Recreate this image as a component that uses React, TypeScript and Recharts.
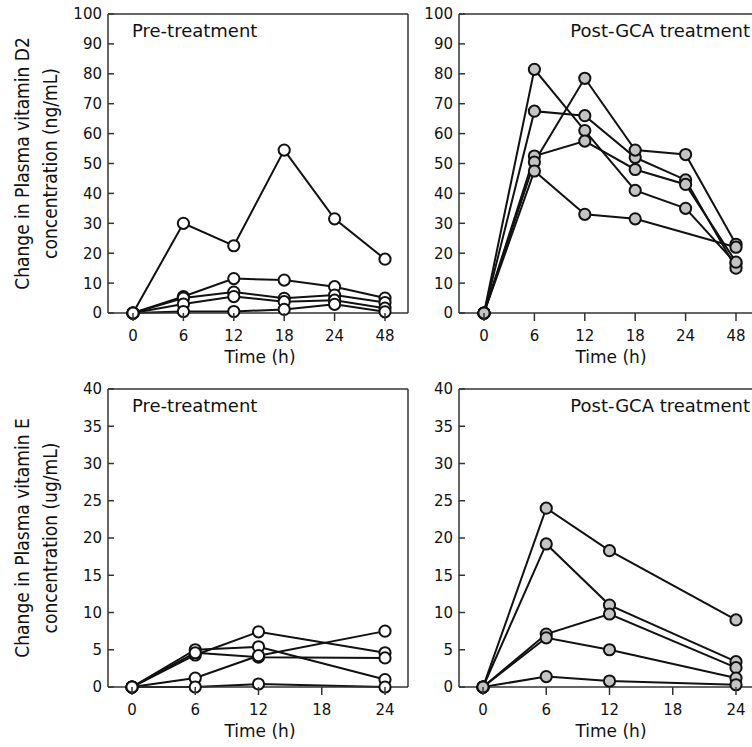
import { LineChart, Line, XAxis, YAxis } from "recharts";

// sampling times
const timesD2 = ["0", "6", "12", "18", "24", "48"];
const timesE = [0, 6, 12, 24];
const ticksD2Y = [0, 10, 20, 30, 40, 50, 60, 70, 80, 90, 100];
const ticksEY = [0, 5, 10, 15, 20, 25, 30, 35, 40];
const ticksEX = [0, 6, 12, 18, 24];

// vitamin D2, pre-treatment (ng/mL)
const preD2A = [0, 30, 22.5, 54.5, 31.5, 18];
const preD2B = [0, 5.5, 11.5, 11, 8.8, 5];
const preD2C = [0, 5, 7, 4.9, 6, 3.5];
const preD2D = [0, 3, 5.5, 3.8, 4.3, 1.6];
const preD2E = [0, 0.5, 0.5, 1.2, 2.9, 0.4];

// vitamin D2, post-GCA (ng/mL)
const postD2A = [0, 81.5, 61, 41, 35, 16.5];
const postD2B = [0, 67.5, 66, 52, 44.5, 15];
const postD2C = [0, 52.5, 57.5, 48, 43, 17];
const postD2D = [0, 50.5, 78.5, 54.5, 53, 23];
const postD2E = [0, 47.5, 33, 31.5, null, 22];

// vitamin E, pre-treatment (ug/mL)
const preEA = [0, 4.3, 7.4, 4.6];
const preEB = [0, 5, 5.4, 1];
const preEC = [0, 4.6, 4, 3.9];
const preED = [0, 1.2, 4.2, 7.5];
const preEE = [0, 0, 0.4, 0];

// vitamin E, post-GCA (ug/mL)
const postEA = [0, 24, 18.3, 9];
const postEB = [0, 19.2, 11, 3.4];
const postEC = [0, 7.1, 9.8, 2.6];
const postED = [0, 6.6, 5, 1.2];
const postEE = [0, 1.4, 0.8, 0.3];

const keys = ["a", "b", "c", "d", "e"];

function rows(times: (string | number)[], series: (number | null)[][]) {
  return times.map((t, i) => {
    const r: Record<string, string | number | null> = { t };
    series.forEach((s, k) => (r[keys[k]] = s[i]));
    return r;
  });
}

const dataPreD2 = rows(timesD2, [preD2A, preD2B, preD2C, preD2D, preD2E]);
const dataPostD2 = rows(timesD2, [postD2A, postD2B, postD2C, postD2D, postD2E]);
const dataPreE = rows(timesE, [preEA, preEB, preEC, preED, preEE]);
const dataPostE = rows(timesE, [postEA, postEB, postEC, postED, postEE]);

const FONT = "'DejaVu Sans', Verdana, sans-serif";
const FRAME = "#333";
const INK = "#111";

const YTick = (props: any) => {
  const { x, y, payload } = props;
  return (
    <g>
      <line x1={x} x2={x + 6} y1={y} y2={y} stroke={FRAME} strokeWidth={1.5} />
      <text x={x - 6} y={y} dy="0.36em" textAnchor="end" fontSize={15} fontFamily={FONT} fill={INK}>
        {payload.value}
      </text>
    </g>
  );
};

const XTick = (props: any) => {
  const { x, y, payload } = props;
  return (
    <g>
      <line x1={x} x2={x} y1={y} y2={y + 8} stroke={FRAME} strokeWidth={1.5} />
      <text x={x} y={y + 28} textAnchor="middle" fontSize={15} fontFamily={FONT} fill={INK}>
        {payload.value}
      </text>
    </g>
  );
};

type PanelProps = {
  left: number;
  top: number;
  width: number;
  height: number;
  marginRight: number;
  yWidth: number;
  xHeight: number;
  data: any[];
  numericX: boolean;
  yMax: number;
  yTicks: number[];
  fill: string;
  title: string;
  titleRight: boolean;
  yTitle?: string[];
};

function Panel(p: PanelProps) {
  const yTitle = p.yTitle;
  const xTitle = {
    content: ({ viewBox }: any) => (
      <text
        x={viewBox.x + viewBox.width / 2 + 2}
        y={viewBox.y + 50}
        textAnchor="middle"
        fontSize={17}
        fontFamily={FONT}
        fill={INK}
      >
        Time (h)
      </text>
    ),
  };
  return (
    <div style={{ position: "absolute", left: p.left, top: p.top }}>
      <LineChart
        width={p.width}
        height={p.height}
        data={p.data}
        margin={{ top: 13, right: p.marginRight - 1, left: 0, bottom: 0 }}
      >
        {p.numericX ? (
          <XAxis
            dataKey="t"
            type="number"
            domain={[0, 24]}
            ticks={ticksEX}
            padding={{ left: 24, right: 23 }}
            height={p.xHeight}
            tickSize={0}
            tickMargin={0}
            tickLine={false}
            tick={XTick}
            axisLine={{ stroke: FRAME, strokeWidth: 1.5 }}
            label={xTitle}
          />
        ) : (
          <XAxis
            dataKey="t"
            type="category"
            padding={{ left: 25, right: 23 }}
            height={p.xHeight}
            tickSize={0}
            tickMargin={0}
            tickLine={false}
            tick={XTick}
            axisLine={{ stroke: FRAME, strokeWidth: 1.5 }}
            label={xTitle}
          />
        )}
        {/* top and right edges of the frame */}
        <XAxis
          xAxisId="top"
          orientation="top"
          dataKey="t"
          type={p.numericX ? "number" : "category"}
          domain={p.numericX ? [0, 24] : undefined}
          height={1}
          tick={false}
          tickLine={false}
          axisLine={{ stroke: FRAME, strokeWidth: 1.5 }}
          label={{
            content: ({ viewBox }: any) => (
              <text
                x={p.titleRight ? viewBox.x + viewBox.width - 9 : viewBox.x + 24}
                y={viewBox.y + viewBox.height + 23}
                textAnchor={p.titleRight ? "end" : "start"}
                fontSize={18}
                fontFamily={FONT}
                fill={INK}
              >
                {p.title}
              </text>
            ),
          }}
        />
        <YAxis
          type="number"
          domain={[0, p.yMax]}
          ticks={p.yTicks}
          width={p.yWidth}
          tickSize={0}
          tickMargin={0}
          tickLine={false}
          tick={YTick}
          axisLine={{ stroke: FRAME, strokeWidth: 1.5 }}
          label={
            yTitle
              ? {
                  content: ({ viewBox }: any) => {
                    const cy = viewBox.y + viewBox.height / 2;
                    return (
                      <g>
                        {yTitle.map((line, i) => {
                          const cx = viewBox.x + 22 + i * 28;
                          return (
                            <text
                              key={i}
                              x={cx}
                              y={cy}
                              transform={`rotate(-90, ${cx}, ${cy})`}
                              textAnchor="middle"
                              dominantBaseline="central"
                              fontSize={19}
                              fontFamily="'DejaVu Sans Condensed', 'DejaVu Sans', sans-serif"
                              fill={INK}
                            >
                              {line}
                            </text>
                          );
                        })}
                      </g>
                    );
                  },
                }
              : undefined
          }
        />
        <YAxis
          yAxisId="right"
          orientation="right"
          type="number"
          domain={[0, p.yMax]}
          width={1}
          tick={false}
          tickLine={false}
          axisLine={{ stroke: FRAME, strokeWidth: 1.5 }}
        />
        <Line
          xAxisId="top"
          yAxisId="right"
          dataKey="a"
          stroke="none"
          dot={false}
          activeDot={false}
          legendType="none"
          isAnimationActive={false}
        />
        {keys.map((k) => (
          <Line
            key={k}
            dataKey={k}
            type="linear"
            stroke={INK}
            strokeWidth={2}
            connectNulls
            dot={{ r: 5.6, fill: p.fill, stroke: INK, strokeWidth: 2 }}
            activeDot={false}
            isAnimationActive={false}
          />
        ))}
      </LineChart>
    </div>
  );
}

export default function App() {
  return (
    <div
      style={{
        position: "absolute",
        left: 0,
        top: 0,
        width: 752,
        height: 747,
        overflow: "hidden",
        background: "#fff",
      }}
    >
      <Panel
        left={0}
        top={0}
        width={420}
        height={375}
        marginRight={12}
        yWidth={108}
        xHeight={62}
        data={dataPreD2}
        numericX={false}
        yMax={100}
        yTicks={ticksD2Y}
        fill="#fff"
        title="Pre-treatment"
        titleRight={false}
        yTitle={["Change in Plasma vitamin D2", "concentration (ng/mL)"]}
      />
      <Panel
        left={410}
        top={0}
        width={360}
        height={375}
        marginRight={11}
        yWidth={49}
        xHeight={62}
        data={dataPostD2}
        numericX={false}
        yMax={100}
        yTicks={ticksD2Y}
        fill="#c4c4c4"
        title="Post-GCA treatment"
        titleRight={true}
      />
      <Panel
        left={0}
        top={375}
        width={420}
        height={372}
        marginRight={12}
        yWidth={108}
        xHeight={60}
        data={dataPreE}
        numericX={true}
        yMax={40}
        yTicks={ticksEY}
        fill="#fff"
        title="Pre-treatment"
        titleRight={false}
        yTitle={["Change in Plasma vitamin E", "concentration (ug/mL)"]}
      />
      <Panel
        left={410}
        top={375}
        width={360}
        height={372}
        marginRight={11}
        yWidth={49}
        xHeight={60}
        data={dataPostE}
        numericX={true}
        yMax={40}
        yTicks={ticksEY}
        fill="#c4c4c4"
        title="Post-GCA treatment"
        titleRight={true}
      />
    </div>
  );
}
